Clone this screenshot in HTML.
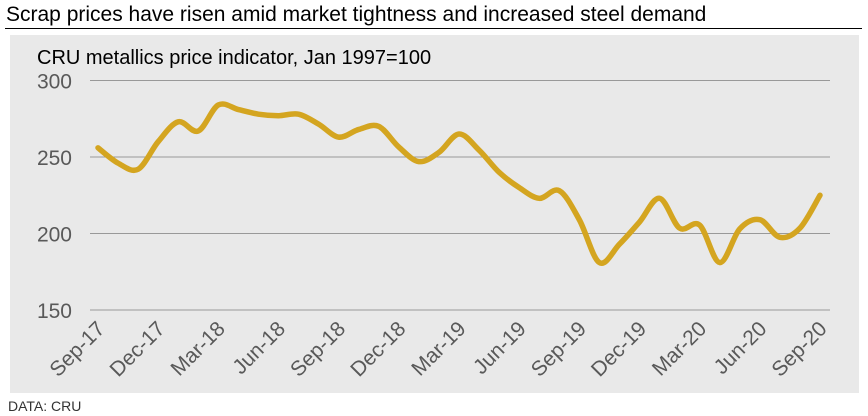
<!DOCTYPE html>
<html><head><meta charset="utf-8"><style>
body{margin:0;width:868px;height:416px;background:#fff;font-family:"Liberation Sans",Arial,sans-serif;overflow:hidden;position:relative}
.title{position:absolute;left:6px;top:3px;font-size:21px;color:#000}
.rule{position:absolute;left:5px;top:28px;width:857px;height:1px;background:#000}
.panel{position:absolute;left:10px;top:35px;width:849px;height:358px;background:#e9e9e9}
.src{position:absolute;left:8px;top:398px;font-size:14px;color:#333}
</style></head><body>
<div class="title">Scrap prices have risen amid market tightness and increased steel demand</div>
<div class="rule"></div>
<div class="panel"></div>
<svg id="chart" width="868" height="416" style="position:absolute;left:0;top:0">
<text x="37" y="64" font-size="20" fill="#000" font-family="Liberation Sans">CRU metallics price indicator, Jan 1997=100</text>
</svg>
<div class="src">DATA: CRU</div>
<script>
const yTicks=[150,200,250,300];
const xLabels=["Sep-17","Dec-17","Mar-18","Jun-18","Sep-18","Dec-18","Mar-19","Jun-19","Sep-19","Dec-19","Mar-20","Jun-20","Sep-20"];
const values=[256,246,242,260,273,267,284,281,278,277,278,271.5,263,268,270,256.5,247,253,265,254.5,240,230,223,228,209,181,193,207.5,223,203.5,205.5,181,203,209,197.5,203.5,225];
const NS="http://www.w3.org/2000/svg";
const svg=document.getElementById('chart');
const y=v=>310-(v-150)*76.5/50;
const x=i=>98+i*(820-98)/(values.length-1);
yTicks.forEach(t=>{
 const l=document.createElementNS(NS,'line');
 
 
 l.setAttribute('x1',90);l.setAttribute('x2',830);l.setAttribute('y1',y(t));l.setAttribute('y2',y(t));
 l.setAttribute('stroke','#999');l.setAttribute('stroke-width','1');svg.appendChild(l);
 const tx=document.createElementNS(NS,'text');
 
 
 tx.setAttribute('x',72);tx.setAttribute('y',y(t)+8);tx.setAttribute('text-anchor','end');
 tx.setAttribute('font-size','21');tx.setAttribute('fill','#595959');tx.textContent=t;svg.appendChild(tx);
});
xLabels.forEach((s,k)=>{
 const xi=x(k*3);
 const tx=document.createElementNS(NS,'text');
 
 
 tx.setAttribute('x',xi+8);tx.setAttribute('y',330);tx.setAttribute('text-anchor','end');
 tx.setAttribute('transform','rotate(-45 '+(xi+8)+' 330)');
 tx.setAttribute('font-size','21');tx.setAttribute('fill','#595959');tx.textContent=s;svg.appendChild(tx);
});
const pts=values.map((v,i)=>[x(i),y(v)]);
let d='M'+pts[0][0]+','+pts[0][1];
for(let i=0;i<pts.length-1;i++){
 const p0=pts[Math.max(0,i-1)],p1=pts[i],p2=pts[i+1],p3=pts[Math.min(pts.length-1,i+2)];
 const c1=[p1[0]+(p2[0]-p0[0])/6,p1[1]+(p2[1]-p0[1])/6];
 const c2=[p2[0]-(p3[0]-p1[0])/6,p2[1]-(p3[1]-p1[1])/6];
 d+=' C'+c1+' '+c2+' '+p2;
}
const path=document.createElementNS(NS,'path');


path.setAttribute('d',d);path.setAttribute('fill','none');path.setAttribute('stroke','#d4a520');
path.setAttribute('stroke-width','5.5');path.setAttribute('stroke-linecap','round');path.setAttribute('stroke-linejoin','round');
svg.appendChild(path);
</script>
</body></html>
